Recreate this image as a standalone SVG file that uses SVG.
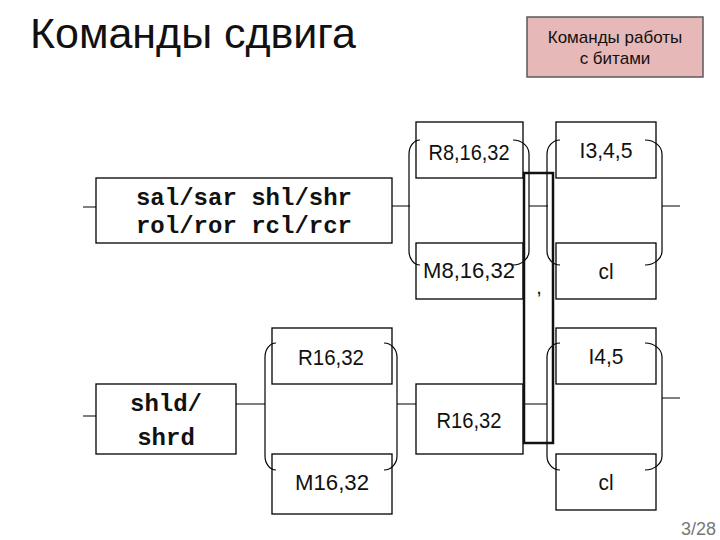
<svg xmlns="http://www.w3.org/2000/svg" width="720" height="540" viewBox="0 0 720 540">
<style>
.box{fill:#fff;stroke:#000;stroke-width:1.3}
.conn{stroke:#7f7f7f;stroke-width:2;fill:none}
.br{stroke:#000;stroke-width:1.2;fill:none}
.lbl{font-family:"Liberation Sans",Arial,sans-serif;font-size:22px;fill:#111;text-anchor:middle}
.mono{font-family:"Liberation Mono","Courier New",monospace;font-weight:bold;font-size:24px;fill:#111;text-anchor:middle}
</style>
<rect width="720" height="540" fill="#fff"/>
<text x="30" y="48" font-family="Liberation Sans,Arial,sans-serif" font-size="42" fill="#111" textLength="326" lengthAdjust="spacingAndGlyphs">Команды сдвига</text>
<g id="bits">
<rect x="527" y="17" width="176" height="60" fill="#e6b8b7" stroke="#595959" stroke-width="1.5"/>
<text x="615" y="43" font-family="Liberation Sans,Arial,sans-serif" font-size="17" fill="#111" text-anchor="middle">Команды работы</text>
<text x="615" y="64" font-family="Liberation Sans,Arial,sans-serif" font-size="17" fill="#111" text-anchor="middle">с битами</text>
</g>
<g id="connectors">
<path class="conn" d="M83 207H96M392 206H410M529 206H548M662 206H680"/>
<path class="conn" d="M83 416H96M236 404H265M397 404H416M523 404H547M662 398H680"/>
</g>
<g id="sal">
<rect class="box" x="96" y="178" width="296" height="65"/>
<text class="mono" x="244" y="205">sal/sar shl/shr</text>
<text class="mono" x="244" y="233">rol/ror rcl/rcr</text>
</g>
<g id="r8">
<rect class="box" x="416" y="122" width="107" height="56"/>
<text class="lbl" x="469" y="160" textLength="81" lengthAdjust="spacingAndGlyphs">R8,16,32</text>
</g>
<g id="m8">
<rect class="box" x="416" y="243" width="107" height="56"/>
<text class="lbl" x="469" y="278" textLength="92" lengthAdjust="spacingAndGlyphs">M8,16,32</text>
</g>
<g id="i345">
<rect class="box" x="556" y="122" width="100" height="56"/>
<text class="lbl" x="606" y="158" textLength="53" lengthAdjust="spacingAndGlyphs">I3,4,5</text>
</g>
<g id="cl1">
<rect class="box" x="556" y="243" width="100" height="56"/>
<text class="lbl" x="606" y="279" textLength="15" lengthAdjust="spacingAndGlyphs">cl</text>
</g>
<g id="shld">
<rect class="box" x="96" y="384" width="140" height="70"/>
<text class="mono" x="166" y="411">shld/</text>
<text class="mono" x="166" y="445">shrd</text>
</g>
<g id="r16a">
<rect class="box" x="272" y="328" width="120" height="56"/>
<text class="lbl" x="331" y="365" textLength="66" lengthAdjust="spacingAndGlyphs">R16,32</text>
</g>
<g id="m16">
<rect class="box" x="272" y="454" width="120" height="60"/>
<text class="lbl" x="332" y="490" textLength="74" lengthAdjust="spacingAndGlyphs">M16,32</text>
</g>
<g id="r16b">
<rect class="box" x="416" y="384" width="107" height="70"/>
<text class="lbl" x="469" y="428" textLength="65" lengthAdjust="spacingAndGlyphs">R16,32</text>
</g>
<g id="i45">
<rect class="box" x="556" y="328" width="100" height="56"/>
<text class="lbl" x="606" y="364" textLength="35" lengthAdjust="spacingAndGlyphs">I4,5</text>
</g>
<g id="cl2">
<rect class="box" x="556" y="454" width="100" height="56"/>
<text class="lbl" x="606" y="490" textLength="15" lengthAdjust="spacingAndGlyphs">cl</text>
</g>
<g id="brackets">
<path class="br" d="M420 140A11 14 0 0 0 409 154V251A11 14 0 0 0 420 265M513 140A16 14 0 0 1 529 154V251A16 14 0 0 1 513 265"/>
<path class="br" d="M560 140A13 14 0 0 0 547 154V251A13 14 0 0 0 560 265M645 140A17 14 0 0 1 662 154V251A17 14 0 0 1 645 265"/>
<path class="br" d="M276 343A11 14 0 0 0 265 357V456A11 14 0 0 0 276 470M384 343A13 14 0 0 1 397 357V456A13 14 0 0 1 384 470"/>
<path class="br" d="M560 343A13 14 0 0 0 547 357V456A13 14 0 0 0 560 470M645 343A17 14 0 0 1 662 357V456A17 14 0 0 1 645 470"/>
</g>
<g id="comma">
<rect x="524" y="173" width="29" height="270" fill="none" stroke="#111" stroke-width="2.5"/>
<text x="539" y="294" font-family="Liberation Sans,Arial,sans-serif" font-size="20" fill="#111" text-anchor="middle">,</text>
</g>
<text x="716" y="535" font-family="Liberation Sans,Arial,sans-serif" font-size="18" fill="#777" text-anchor="end">3/28</text>
</svg>
